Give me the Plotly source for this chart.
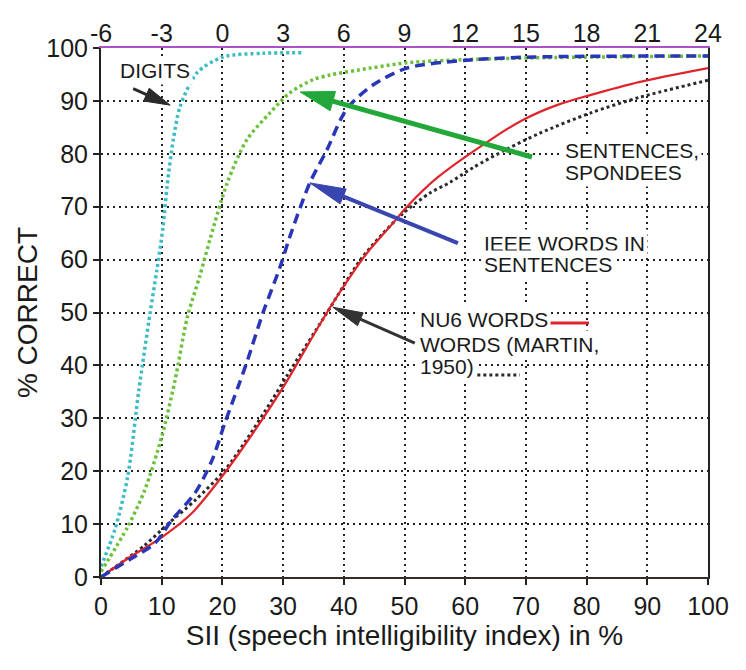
import plotly.graph_objects as go

# ---------------- data (SII %, % correct) ----------------
digits_x = [0, 2.3, 4.4, 6.2, 8.1, 9.2, 10.2, 10.9, 11.9, 13, 15.8, 20.1, 26.7, 33]
digits_y = [2, 9, 19, 35, 50, 58, 66, 74, 82.6, 88.8, 95.3, 98.3, 99, 99.1]

sent_x = [0, 4.4, 7.2, 10, 12.2, 14.2, 16.3, 18, 20.8, 24, 27.8, 31.1, 34.9, 37.7, 42.2, 50.4, 60, 75, 100]
sent_y = [1, 9.5, 16.4, 26.5, 37.2, 49, 57, 64, 74.5, 82.6, 87.7, 91.5, 94, 94.9, 95.8, 97.2, 97.8, 98.2, 98.5]

ieee_x = [0, 5, 8.9, 11.7, 15.5, 18.3, 20.4, 22.6, 24, 26.7, 29.5, 31.1, 34.4, 37.2, 40.5, 44.8, 50.4, 60.3, 71.2, 100]
ieee_y = [0, 3.5, 6.4, 10.8, 15.9, 22.1, 29.1, 36.0, 40.5, 50, 58.6, 64.3, 74.5, 80.7, 88.5, 93, 96.2, 97.7, 98.3, 98.5]

nu6_x = [0, 4.4, 10, 15, 20.4, 25.4, 30.4, 35.5, 38.2, 41, 43.8, 48.1, 50.4, 55.3, 64.1, 69.5, 75.1, 80.6, 88.8, 100]
nu6_y = [0, 3.5, 7.5, 12.1, 19.7, 27.8, 36.6, 46.7, 51.8, 56.7, 61.2, 66.9, 70, 75.4, 82.6, 86.4, 89.2, 91.1, 93.6, 96.2]

martin_x = [0, 7.2, 11, 15.5, 20.4, 23.7, 28.2, 30.6, 37.2, 42.7, 46.5, 49.8, 54.2, 57.5, 61.3, 66.9, 72.3, 80.6, 88.8, 100]
martin_y = [0, 6, 10, 14.5, 20.2, 25.5, 33.5, 38.0, 49.9, 59.9, 65, 68.8, 72.6, 74.6, 77.4, 80.9, 83.9, 87.7, 90.7, 93.9]

bottom_ticks = list(range(0, 101, 10))
top_ticks = list(range(-6, 25, 3))
top_labels = [str(v) for v in top_ticks]
y_ticks = list(range(0, 101, 10))

# ---------------- layout geometry ----------------
W, H = 746, 670
ML, MR, MT, MB = 101, 38, 48, 93
PX = (W - ML - MR) / 100.0   # px per SII unit
PY = (H - MT - MB) / 100.0   # px per % unit

FONT = "Liberation Sans, Arial, Helvetica, sans-serif"
TXT = "#1a1a1a"
SM = 0.8

fig = go.Figure()

fig.add_trace(go.Scatter(x=martin_x, y=martin_y, mode="lines", line=dict(color="#2a2a2a", width=3, dash="3px,3px", shape="spline", smoothing=SM), hoverinfo="skip"))
fig.add_trace(go.Scatter(x=nu6_x, y=nu6_y, mode="lines", line=dict(color="#e0242c", width=2.2, shape="spline", smoothing=SM), hoverinfo="skip"))
fig.add_trace(go.Scatter(x=sent_x, y=sent_y, mode="lines", line=dict(color="#6cc03a", width=3.5, dash="3px,3px", shape="spline", smoothing=SM), hoverinfo="skip"))
fig.add_trace(go.Scatter(x=ieee_x, y=ieee_y, mode="lines", line=dict(color="#2a36b8", width=3.5, dash="10px,6px", shape="spline", smoothing=SM), hoverinfo="skip"))
fig.add_trace(go.Scatter(x=digits_x, y=digits_y, mode="lines", line=dict(color="#3cbcc4", width=3.5, dash="3px,3px", shape="spline", smoothing=SM), hoverinfo="skip"))
# invisible trace to activate top axis
fig.add_trace(go.Scatter(x=[top_ticks[0], top_ticks[-1]], y=[0, 0], xaxis="x2", mode="markers", marker=dict(opacity=0), hoverinfo="skip"))


def to_px(x, y):
    return x * PX, -y * PY


def to_data(px, py):
    return px / PX, -py / PY


def arrow(tail, head, color, width, hl=30, hw=16):
    tx, ty = to_px(*tail)
    hx, hy = to_px(*head)
    dx, dy = hx - tx, hy - ty
    L = (dx * dx + dy * dy) ** 0.5
    ux, uy = dx / L, dy / L
    nx, ny = -uy, ux
    bx, by = hx - ux * hl, hy - uy * hl
    p1 = to_data(bx + nx * hw / 2, by + ny * hw / 2)
    p2 = to_data(bx - nx * hw / 2, by - ny * hw / 2)
    b = to_data(bx + ux * 2, by + uy * 2)
    fig.add_shape(type="line", xref="x", yref="y", x0=tail[0], y0=tail[1], x1=b[0], y1=b[1],
                  line=dict(color=color, width=width))
    path = f"M {head[0]},{head[1]} L {p1[0]},{p1[1]} L {p2[0]},{p2[1]} Z"
    fig.add_shape(type="path", xref="x", yref="y", path=path, fillcolor=color,
                  line=dict(color=color, width=1))


def label(x, y, text):
    fig.add_annotation(x=x, y=y, xref="x", yref="y", text=text, showarrow=False,
                       xanchor="left", yanchor="middle", bgcolor="white", borderpad=2,
                       font=dict(family=FONT, size=21, color=TXT))


# labels
label(2.6, 95.7, "DIGITS")
label(76.0, 80.7, "SENTENCES,")
label(76.0, 76.4, "SPONDEES")
label(62.6, 63.1, "IEEE WORDS IN")
label(62.6, 59.0, "SENTENCES")
label(52.0, 48.6, "NU6 WORDS")
label(52.0, 43.9, "WORDS (MARTIN,")
label(52.0, 39.7, "1950)")

# line samples
fig.add_shape(type="line", xref="x", yref="y", x0=73.8, y0=48.0, x1=80.4, y1=48.0,
              line=dict(color="#e0242c", width=3))
fig.add_shape(type="line", xref="x", yref="y", x0=62.0, y0=38.2, x1=69.0, y1=38.2,
              line=dict(color="#2a2a2a", width=3, dash="3px,3px"))

# arrows
arrow((5.3, 92.3), (11.4, 89.2), "#2a2a2a", 3, hl=26, hw=14)
arrow((71.0, 79.4), (32.8, 91.7), "#22a838", 5, hl=34, hw=20)
arrow((58.8, 63.1), (34.4, 74.5), "#3a46b0", 4, hl=36, hw=16)
arrow((51.7, 44.2), (38.2, 51.0), "#333333", 3, hl=30, hw=14)

fig.update_layout(
    width=W, height=H,
    margin=dict(l=ML, r=MR, t=MT, b=MB),
    paper_bgcolor="white", plot_bgcolor="white",
    showlegend=False,
    font=dict(family=FONT, color=TXT),
    xaxis=dict(range=[0, 100], tickvals=bottom_ticks, ticks="outside", ticklen=6, tickwidth=1.5,
               tickcolor="#222", showline=True, linecolor="#3a2a2a", linewidth=2,
               showgrid=True, gridcolor="#222", griddash="2px,4px", gridwidth=2,
               zeroline=False, tickfont=dict(size=25, family=FONT, color=TXT),
               title=dict(text="SII (speech intelligibility index) in %", font=dict(size=28, family=FONT, color=TXT), standoff=3)),
    xaxis2=dict(range=[-6, 24], overlaying="x", side="top", tickvals=top_ticks, ticktext=top_labels, ticks="",
                showline=True, linecolor="#b050c8", linewidth=1.5, showgrid=False, zeroline=False,
                ticklabelstandoff=-6,
                tickfont=dict(size=25, family=FONT, color=TXT)),
    yaxis=dict(range=[0, 100], tickvals=y_ticks, ticks="outside", ticklen=6, tickwidth=1.5,
               tickcolor="#222", showline=True, mirror=True, linecolor="#222", linewidth=2,
               showgrid=True, gridcolor="#222", griddash="2px,4px", gridwidth=2,
               zeroline=False, tickfont=dict(size=25, family=FONT, color=TXT),
               title=dict(text="% CORRECT", font=dict(size=28, family=FONT, color=TXT), standoff=0)),
)

fig.write_html("out.html")
